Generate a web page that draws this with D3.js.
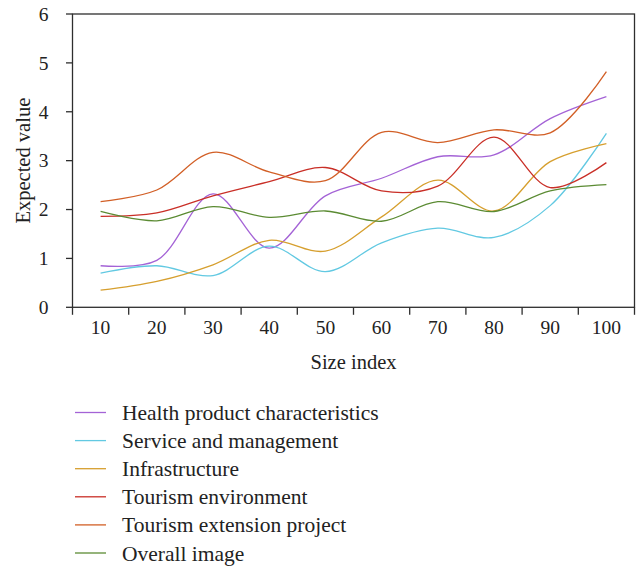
<!DOCTYPE html>
<html>
<head>
<meta charset="utf-8">
<script src="https://cdn.jsdelivr.net/npm/d3@7"></script>
<style>
  html, body { margin: 0; padding: 0; background: #fff; }
  svg { display: block; font-family: "Liberation Serif", "DejaVu Serif", serif; }
</style>
</head>
<body>
<svg id="chart" width="639" height="567"></svg>
<script>
// Size index categories on the x axis
const sizeIndex = [10, 20, 30, 40, 50, 60, 70, 80, 90, 100];
const yTicks = [0, 1, 2, 3, 4, 5, 6];

// Expected value for each evaluation dimension
const healthProduct = [0.85, 0.96, 2.32, 1.21, 2.28, 2.64, 3.08, 3.12, 3.86, 4.31];
const serviceMgmt   = [0.70, 0.85, 0.65, 1.25, 0.73, 1.32, 1.62, 1.43, 2.08, 3.56];
const infrastructure= [0.35, 0.53, 0.87, 1.37, 1.15, 1.85, 2.60, 1.97, 2.98, 3.35];
const tourismEnv    = [1.86, 1.93, 2.28, 2.57, 2.86, 2.38, 2.48, 3.48, 2.45, 2.96];
const extensionProj = [2.16, 2.40, 3.17, 2.77, 2.59, 3.58, 3.37, 3.63, 3.57, 4.82];
const overallImage  = [1.96, 1.77, 2.06, 1.84, 1.97, 1.76, 2.16, 1.96, 2.38, 2.51];

const seriesNames = ["Health product characteristics", "Service and management", "Infrastructure",
                     "Tourism environment", "Tourism extension project", "Overall image"];
const seriesValues = [healthProduct, serviceMgmt, infrastructure, tourismEnv, extensionProj, overallImage];
const seriesColors = ["#a463d6", "#62c9e2", "#d69f2e", "#c92f27", "#d25f26", "#5b8b33"];

const svg = d3.select("#chart");
const margin = { left: 72.5, top: 14, right: 4.5 };
const W = 639;
const plotW = W - margin.left - margin.right;
const plotH = 307.3 - margin.top;

const g = svg.append("g").attr("transform", `translate(${margin.left},${margin.top})`);

const x = d3.scaleBand().domain(sizeIndex).range([0, plotW]);
const y = d3.scaleLinear().domain([0, 6]).range([plotH, 0]);

// frame
g.append("rect")
  .attr("x", 0).attr("y", 0).attr("width", plotW).attr("height", plotH)
  .attr("fill", "none").attr("stroke", "#2e2e2e").attr("stroke-width", 1.3);

// x axis: ticks at band boundaries, labels at band centres
const xAxis = g.append("g").attr("transform", `translate(0,${plotH})`);
const boundaries = sizeIndex.map(d => x(d)).concat([plotW]);
xAxis.selectAll("line.tick").data(boundaries).join("line")
  .attr("x1", d => d).attr("x2", d => d).attr("y1", 0).attr("y2", 7.5)
  .attr("stroke", "#2e2e2e").attr("stroke-width", 1.3);
xAxis.selectAll("text").data(sizeIndex).join("text")
  .attr("x", d => x(d) + x.bandwidth() / 2).attr("y", 26.5)
  .attr("text-anchor", "middle").attr("font-size", 19.5).attr("fill", "#222")
  .text(d => d);

// y axis
const yAxis = g.append("g");
yAxis.selectAll("line").data(yTicks).join("line")
  .attr("x1", -6.5).attr("x2", 0).attr("y1", d => y(d)).attr("y2", d => y(d))
  .attr("stroke", "#2e2e2e").attr("stroke-width", 1.3);
yAxis.selectAll("text").data(yTicks).join("text")
  .attr("x", -24).attr("y", d => y(d)).attr("dy", "0.35em")
  .attr("text-anchor", "end").attr("font-size", 19.5).attr("fill", "#222")
  .text(d => d);

// axis titles
svg.append("text")
  .attr("x", margin.left + plotW / 2).attr("y", 369)
  .attr("text-anchor", "middle").attr("font-size", 20.5).attr("fill", "#222")
  .text("Size index");
svg.append("text")
  .attr("transform", `translate(30,${margin.top + plotH / 2}) rotate(-90)`)
  .attr("text-anchor", "middle").attr("font-size", 20.5).attr("fill", "#222")
  .text("Expected value");

// series lines
const line = d3.line()
  .x((d, i) => x(sizeIndex[i]) + x.bandwidth() / 2)
  .y(d => y(d))
  .curve(d3.curveCatmullRom.alpha(0.5));

g.selectAll("path.series").data(seriesValues).join("path")
  .attr("class", "series")
  .attr("d", d => line(d))
  .attr("fill", "none")
  .attr("stroke", (d, i) => seriesColors[i])
  .attr("stroke-width", 1.3);

// legend
const legend = svg.append("g");
const rowY = i => 412.5 + i * 28.1;
legend.selectAll("line").data(seriesNames).join("line")
  .attr("x1", 75).attr("x2", 106)
  .attr("y1", (d, i) => rowY(i)).attr("y2", (d, i) => rowY(i))
  .attr("stroke", (d, i) => seriesColors[i]).attr("stroke-width", 1.3);
legend.selectAll("text").data(seriesNames).join("text")
  .attr("x", 122).attr("y", (d, i) => rowY(i)).attr("dy", "0.35em")
  .attr("font-size", 21.5).attr("fill", "#222")
  .text(d => d);
</script>
</body>
</html>
